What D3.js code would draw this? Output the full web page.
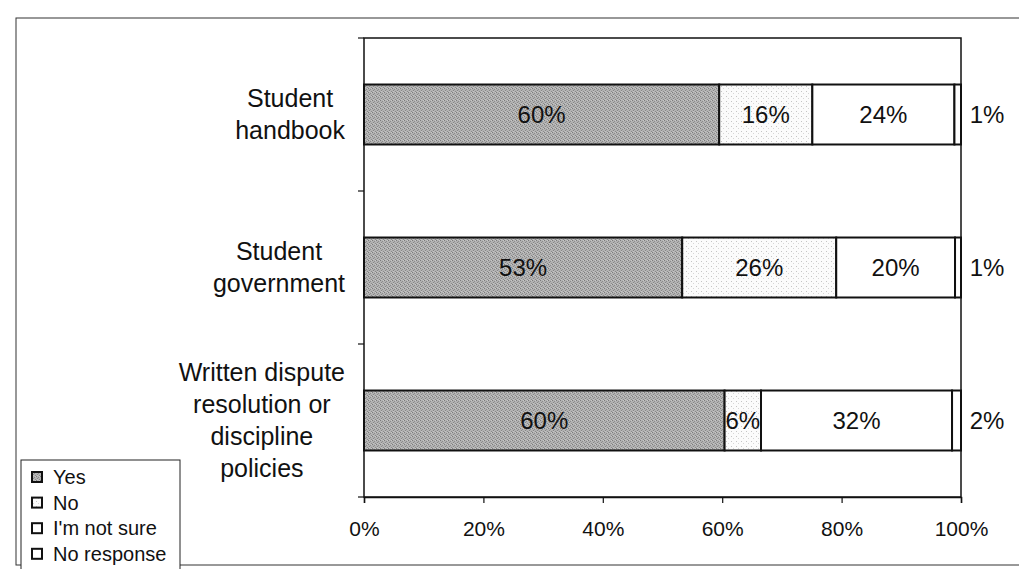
<!DOCTYPE html>
<html>
<head>
<meta charset="utf-8">
<script src="https://cdn.jsdelivr.net/npm/d3@7.9.0/dist/d3.min.js"></script>
<style>
  body { margin: 0; background: #fff; }
  text { font-family: "Liberation Sans", Arial, sans-serif; fill: #111; }
</style>
</head>
<body>
<svg id="chart" width="1019" height="569"></svg>
<script>
// categories, top to bottom
const categories = [
  ['Student', 'handbook'],
  ['Student', 'government'],
  ['Written dispute', 'resolution or', 'discipline', 'policies']
];
const seriesNames = ['Yes', 'No', "I'm not sure", 'No response'];
// percentages per series, one value per category
const yesVals = [59.5, 53.3, 60.4];
const noVals = [15.6, 25.8, 6.1];
const notSureVals = [23.8, 19.9, 32.0];
const noRespVals = [1.1, 1.0, 1.5];
const xTicks = [0, 20, 40, 60, 80, 100];

const svg = d3.select('#chart');
const plot = { left: 364, right: 961, top: 38, bottom: 497 };

// fill patterns like the scanned halftones
const defs = svg.append('defs');
const yesPat = defs.append('pattern').attr('id', 'yesFill')
  .attr('width', 4).attr('height', 4).attr('patternUnits', 'userSpaceOnUse');
yesPat.append('rect').attr('width', 4).attr('height', 4).attr('fill', '#b2b2b2');
[[0, 0, '#7c7c7c'], [2, 1, '#8c8c8c'], [1, 2, '#868686'], [3, 3, '#8a8a8a'], [3, 0, '#c8c8c8'], [1, 3, '#c4c4c4']]
  .forEach(([px, py, c]) => yesPat.append('rect')
    .attr('x', px).attr('y', py).attr('width', 1).attr('height', 1).attr('fill', c));
const noPat = defs.append('pattern').attr('id', 'noFill')
  .attr('width', 5).attr('height', 5).attr('patternUnits', 'userSpaceOnUse');
noPat.append('rect').attr('width', 5).attr('height', 5).attr('fill', '#fbfbfb');
noPat.append('rect').attr('x', 1).attr('y', 1).attr('width', 1).attr('height', 1).attr('fill', '#c4c4c4');
noPat.append('rect').attr('x', 3).attr('y', 3).attr('width', 1).attr('height', 1).attr('fill', '#d6d6d6');

const fills = ['url(#yesFill)', 'url(#noFill)', '#fff', '#fff'];

// outer frame
svg.append('rect')
  .attr('x', 16).attr('y', 18).attr('width', 1010).attr('height', 547)
  .attr('fill', 'none').attr('stroke', '#333').attr('stroke-width', 1);

const x = d3.scaleLinear().domain([0, 100]).range([plot.left, plot.right]);
const y = d3.scaleBand().domain(d3.range(categories.length))
  .range([plot.top, plot.bottom]).paddingInner(0.608).paddingOuter(0.304);

// plot area border
svg.append('rect')
  .attr('x', plot.left).attr('y', plot.top)
  .attr('width', plot.right - plot.left).attr('height', plot.bottom - plot.top)
  .attr('fill', '#fff').attr('stroke', '#111').attr('stroke-width', 1.5);

// stacked bars
const rows = categories.map((c, i) => ({
  i, vals: [yesVals[i], noVals[i], notSureVals[i], noRespVals[i]]
}));
const stack = d3.stack().keys([0, 1, 2, 3]).value((d, k) => d.vals[k]);
const layers = stack(rows);

layers.forEach((layer, k) => {
  svg.append('g').selectAll('rect')
    .data(layer)
    .join('rect')
    .attr('x', d => x(d[0]))
    .attr('y', d => y(d.data.i))
    .attr('width', d => x(d[1]) - x(d[0]))
    .attr('height', y.bandwidth())
    .attr('fill', fills[k])
    .attr('stroke', '#111')
    .attr('stroke-width', 2);
});

// segment labels
layers.forEach((layer, k) => {
  svg.append('g').selectAll('text')
    .data(layer)
    .join('text')
    .attr('x', d => k === 3 ? plot.right + 26 : (x(d[0]) + x(d[1])) / 2)
    .attr('y', d => y(d.data.i) + y.bandwidth() / 2)
    .attr('dy', '0.35em')
    .attr('text-anchor', 'middle')
    .attr('font-size', 24)
    .text(d => Math.round(d.data.vals[k]) + '%');
});

// x axis
const xAxis = svg.append('g')
  .attr('transform', `translate(0,${plot.bottom})`)
  .call(d3.axisBottom(x).tickValues(xTicks).tickFormat(d => d + '%').tickSize(6).tickPadding(18));
xAxis.select('.domain').attr('stroke', '#111').attr('stroke-width', 1.5);
xAxis.selectAll('.tick line').attr('stroke', '#111').attr('stroke-width', 1.2);
xAxis.selectAll('.tick text').attr('font-size', 21).attr('font-family', '"Liberation Sans", Arial, sans-serif').attr('fill', '#111');

// y ticks at band boundaries
const boundaries = d3.range(categories.length + 1).map(i => plot.top + i * y.step());
svg.append('g').selectAll('line')
  .data(boundaries)
  .join('line')
  .attr('x1', plot.left - 6).attr('x2', plot.left)
  .attr('y1', d => d).attr('y2', d => d)
  .attr('stroke', '#111').attr('stroke-width', 1.2);

// category labels: block right-aligned to axis, lines centred in block
const catG = svg.append('g');
categories.forEach((lines, i) => {
  const g = catG.append('g');
  const lh = 32;
  const cy = y(i) + y.bandwidth() / 2;
  const texts = lines.map((ln, j) => g.append('text')
    .attr('y', cy + (j - (lines.length - 1) / 2) * lh)
    .attr('dy', '0.35em')
    .attr('text-anchor', 'middle')
    .attr('font-size', 25)
    .text(ln));
  const maxW = d3.max(texts, t => t.node().getComputedTextLength());
  texts.forEach(t => t.attr('x', 345 - maxW / 2));
});

// legend
const legend = svg.append('g');
legend.append('rect')
  .attr('x', 21).attr('y', 460).attr('width', 159).attr('height', 120)
  .attr('fill', '#fff').attr('stroke', '#222').attr('stroke-width', 1);
seriesNames.forEach((name, k) => {
  const yy = 476 + k * 25.6;
  legend.append('rect')
    .attr('x', 32).attr('y', yy - 4).attr('width', 10).attr('height', 10)
    .attr('fill', fills[k]).attr('stroke', '#111').attr('stroke-width', 2);
  legend.append('text')
    .attr('x', 53).attr('y', yy + 1).attr('dy', '0.35em')
    .attr('font-size', 20)
    .text(name);
});
</script>
</body>
</html>
